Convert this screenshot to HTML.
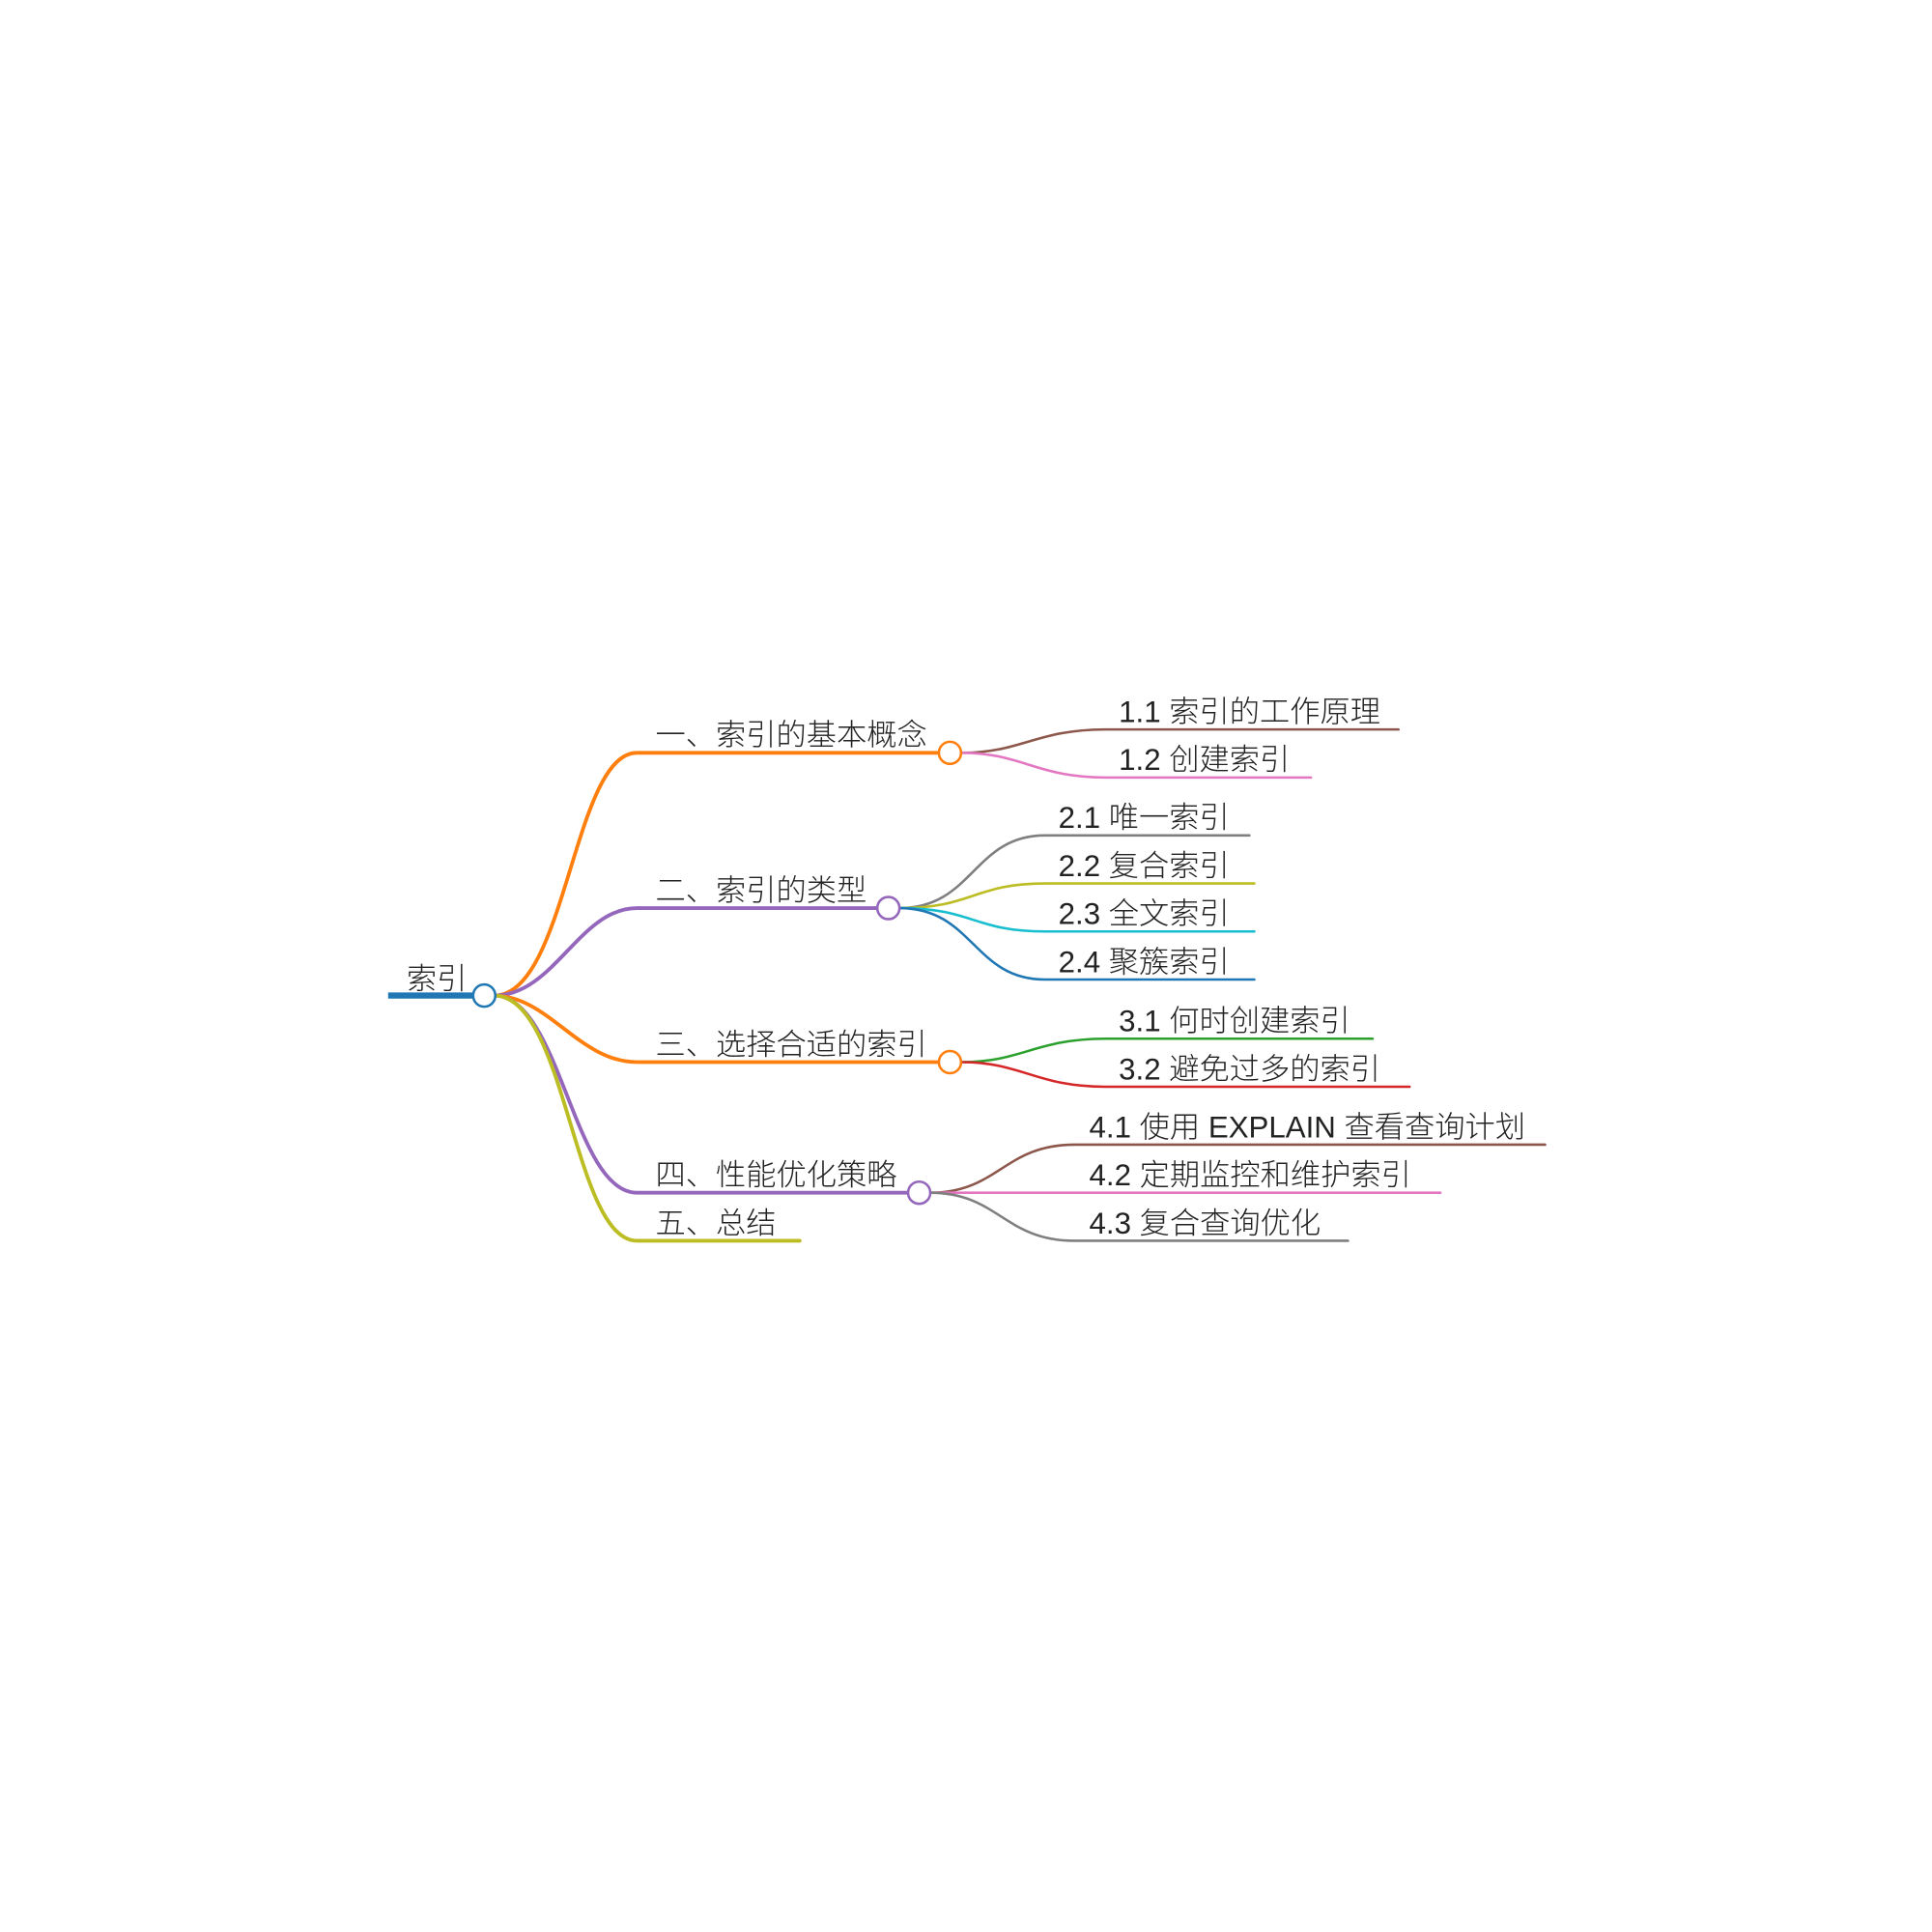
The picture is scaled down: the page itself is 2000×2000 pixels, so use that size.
<!DOCTYPE html>
<html><head><meta charset="utf-8">
<style>
html,body{margin:0;padding:0;background:#fff;}
svg{display:block;}
text{font-family:"Liberation Sans","Noto Sans CJK SC",sans-serif;font-size:24.5px;font-weight:300;fill:#222;}
</style></head>
<body>
<svg width="2000" height="2000" viewBox="0 0 1568 1568" xmlns="http://www.w3.org/2000/svg">
<g fill="none" stroke-linecap="round">
<!-- level 1 branches -->
<path d="M401,808 C460,808 465,611 517,611 L762,611" stroke="#ff7f0e" stroke-width="3"/>
<path d="M401,808 C450,808 470,737 517,737 L712,737" stroke="#9467bd" stroke-width="3"/>
<path d="M401,808 C445,808 470,862 517,862 L762,862" stroke="#ff7f0e" stroke-width="3"/>
<path d="M401,808 C455,808 465,968 517,968 L737,968" stroke="#9467bd" stroke-width="3"/>
<path d="M401,808 C460,808 465,1007 517,1007 L649,1007" stroke="#bcbd22" stroke-width="3"/>
<!-- children 1 -->
<path d="M780,611 C830,611 840,592 898,592 L1135,592" stroke="#8c564b" stroke-width="2"/>
<path d="M780,611 C830,611 840,631 898,631 L1064,631" stroke="#e377c2" stroke-width="2"/>
<!-- children 2 -->
<path d="M730,737 C790,737 790,678 848,678 L1014,678" stroke="#7f7f7f" stroke-width="2"/>
<path d="M730,737 C790,737 790,717 848,717 L1018,717" stroke="#bcbd22" stroke-width="2"/>
<path d="M730,737 C790,737 790,756 848,756 L1018,756" stroke="#17becf" stroke-width="2"/>
<path d="M730,737 C790,737 790,795 848,795 L1018,795" stroke="#1f77b4" stroke-width="2"/>
<!-- children 3 -->
<path d="M780,862 C830,862 840,843 898,843 L1114,843" stroke="#2ca02c" stroke-width="2"/>
<path d="M780,862 C830,862 840,882 898,882 L1144,882" stroke="#d62728" stroke-width="2"/>
<!-- children 4 -->
<path d="M755,968 C810,968 815,929 872,929 L1254,929" stroke="#8c564b" stroke-width="2"/>
<path d="M755,968 L1169,968" stroke="#e377c2" stroke-width="2"/>
<path d="M755,968 C810,968 815,1007 872,1007 L1094,1007" stroke="#7f7f7f" stroke-width="2"/>
<!-- root line -->
<path d="M315,808 L385,808" stroke="#1f77b4" stroke-width="5" stroke-linecap="butt"/>
</g>
<g fill="#fff" stroke-width="2">
<circle cx="393" cy="808" r="9" stroke="#1f77b4"/>
<circle cx="771" cy="611" r="9" stroke="#ff7f0e"/>
<circle cx="721" cy="737" r="9" stroke="#9467bd"/>
<circle cx="771" cy="862" r="9" stroke="#ff7f0e"/>
<circle cx="746" cy="968" r="9" stroke="#9467bd"/>
</g>
<text x="330" y="803">索引</text>
<text x="532" y="605">一、索引的基本概念</text>
<text x="532" y="731">二、索引的类型</text>
<text x="532" y="856">三、选择合适的索引</text>
<text x="532" y="962">四、性能优化策略</text>
<text x="532" y="1001">五、总结</text>
<text x="908" y="586">1.1 索引的工作原理</text>
<text x="908" y="625">1.2 创建索引</text>
<text x="859" y="672">2.1 唯一索引</text>
<text x="859" y="711">2.2 复合索引</text>
<text x="859" y="750">2.3 全文索引</text>
<text x="859" y="789">2.4 聚簇索引</text>
<text x="908" y="837">3.1 何时创建索引</text>
<text x="908" y="876">3.2 避免过多的索引</text>
<text x="884" y="923">4.1 使用 EXPLAIN 查看查询计划</text>
<text x="884" y="962">4.2 定期监控和维护索引</text>
<text x="884" y="1001">4.3 复合查询优化</text>
</svg>
</body></html>
